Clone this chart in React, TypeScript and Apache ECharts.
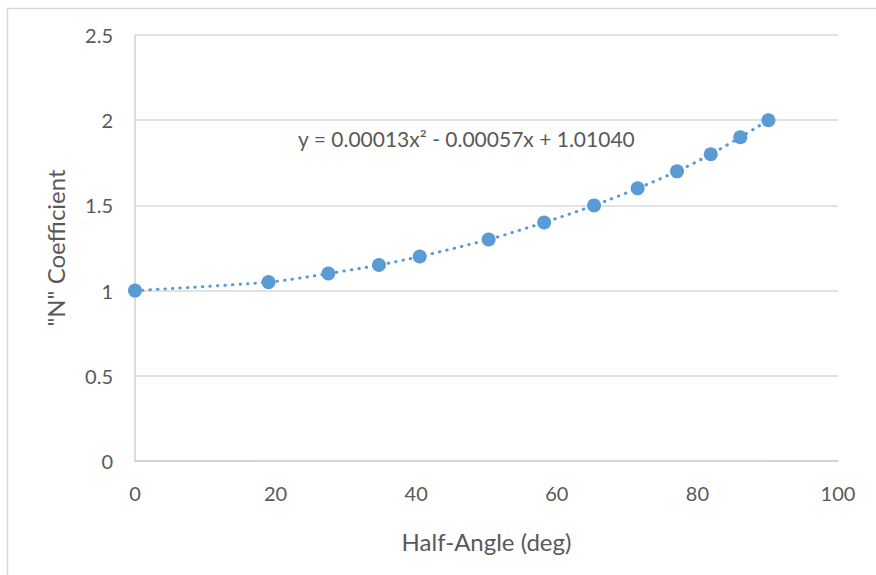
import React, { useEffect, useRef } from "react";
import * as echarts from "echarts";

const halfAngle = [0, 19, 27.5, 34.7, 40.5, 50.3, 58.2, 65.3, 71.5, 77.1, 81.9, 86.1, 90.1];
const nCoef = [1.0, 1.05, 1.1, 1.15, 1.2, 1.3, 1.4, 1.5, 1.6, 1.7, 1.8, 1.9, 2.0];
const xTicks = [0, 20, 40, 60, 80, 100];
const yTicks = [0, 0.5, 1, 1.5, 2, 2.5];
const equationText = "y = 0.00013x² - 0.00057x + 1.01040";
const xTitle = "Half-Angle (deg)";
const yTitle = '"N" Coefficient';

const FONT = "Lato, 'Open Sans', sans-serif";
const BLUE = "#5B9BD5";
const TEXT = "#595959";

export default function App() {
  const ref = useRef<HTMLDivElement>(null);
  useEffect(() => {
    if (!ref.current) return;
    const chart = echarts.init(ref.current, undefined, { renderer: "svg" });
    const points = halfAngle.map((x, i) => [x, nCoef[i]]);
    chart.setOption({
      animation: false,
      backgroundColor: "#ffffff",
      textStyle: { fontFamily: FONT },
      grid: { left: 135, right: 38, top: 35, bottom: 114, containLabel: false },
      xAxis: {
        type: "value",
        min: xTicks[0],
        max: xTicks[xTicks.length - 1],
        interval: 20,
        name: xTitle,
        nameLocation: "middle",
        nameGap: 68,
        nameTextStyle: { color: TEXT, fontSize: 24, fontFamily: FONT },
        axisLine: { show: true, lineStyle: { color: "#D0D0D0", width: 1.5 } },
        axisTick: { show: false },
        splitLine: { show: false },
        axisLabel: { color: TEXT, fontSize: 20, margin: 22, fontFamily: FONT },
      },
      yAxis: {
        type: "value",
        min: yTicks[0],
        max: yTicks[yTicks.length - 1],
        interval: 0.5,
        name: yTitle,
        nameLocation: "middle",
        nameGap: 68,
        nameRotate: 90,
        nameTextStyle: { color: TEXT, fontSize: 24, fontFamily: FONT },
        axisLine: { show: true, lineStyle: { color: "#D0D0D0", width: 1.5 } },
        axisTick: { show: false },
        splitLine: { show: true, lineStyle: { color: "#D9D9D9", width: 1.5 } },
        axisLabel: { color: TEXT, fontSize: 20, margin: 22, fontFamily: FONT },
      },
      series: [
        {
          type: "line",
          data: points,
          smooth: 0.3,
          symbol: "circle",
          symbolSize: 14,
          itemStyle: { color: BLUE },
          lineStyle: { color: BLUE, width: 3, type: [0.5, 7], cap: "round" },
          z: 3,
        },
      ],
      graphic: [
        {
          type: "rect",
          left: 5,
          top: 6,
          shape: { x: 0, y: 0, width: 900, height: 600 },
          style: { fill: "none", stroke: "#D9D9D9", lineWidth: 1.5 },
          silent: true,
          z: -10,
        },
        {
          type: "text",
          left: 298,
          top: 128,
          style: { text: equationText, fill: TEXT, fontSize: 21, fontFamily: FONT },
        },
      ],
    });
    return () => chart.dispose();
  }, []);
  return (
    <div
      ref={ref}
      style={{ position: "fixed", left: 0, top: 0, width: 876, height: 575 }}
    />
  );
}
